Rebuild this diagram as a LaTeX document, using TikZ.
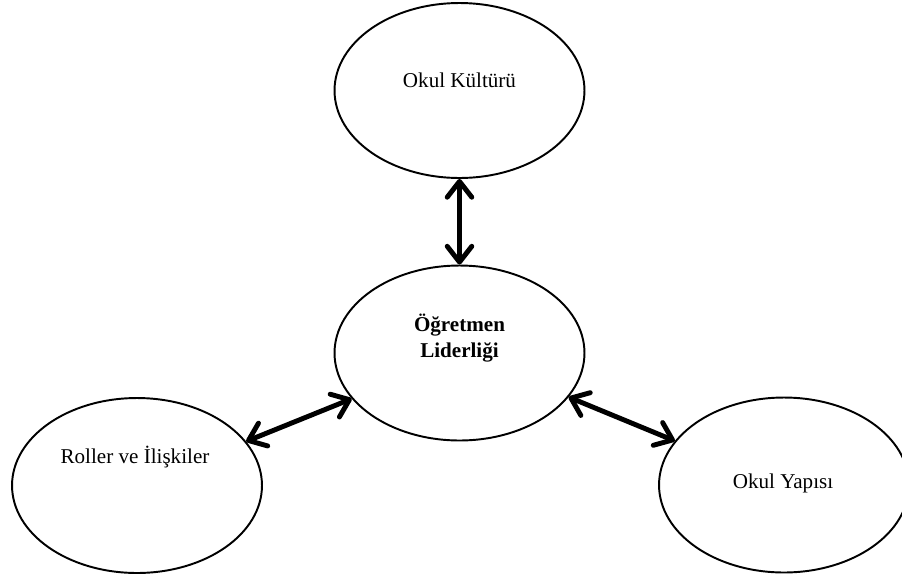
\documentclass[tikz,border=0pt]{standalone}
\usepackage{fontspec}
\setmainfont{Liberation Serif}
\usepackage{tikz}
\usetikzlibrary{shapes.geometric, arrows.meta, positioning, calc}
\tikzstyle{oval} = [ellipse, draw=black, line width=1.1pt, minimum width=5cm, minimum height=3.5cm, inner sep=0pt]
\tikzstyle{txt} = [font=\fontsize{12}{14.8}\selectfont, align=center, inner sep=0pt]
\tikzstyle{link} = [line width=2.8pt, {Straight Barb[round, length=9pt, width=14pt]}-{Straight Barb[round, length=9pt, width=14pt]}]

\begin{document}
\begin{tikzpicture}[x=0.02cm, y=-0.02cm]
    \useasboundingbox (0,0) rectangle (902,575);

    % Ovals
    \node (kultur) [oval] at (459.5,90.5) {};
    \node (lider) [oval] at (459.5,353) {};
    \node (roller) [oval] at (137,485.5) {};
    \node (yapi) [oval] at (784,485) {};

    % Texts
    \node (kulturtxt) [txt, anchor=base] at (459.5,87) {Okul Kültürü};
    \node (lidertxt) [txt, font=\fontsize{12}{14.8}\selectfont\bfseries] at (459.5,338) {Öğretmen\\Liderliği};
    \node (rollertxt) [txt, anchor=base] at (135,463) {Roller ve İlişkiler};
    \node (yapitxt) [txt, anchor=base] at (783,488) {Okul Yapısı};

    % Arrows
    \draw [link] (kultur.south) -- (lider.north);
    \draw [link] (roller.22) -- (lider.203);
    \draw [link] (lider.338) -- (yapi.158);
\end{tikzpicture}
\end{document}
